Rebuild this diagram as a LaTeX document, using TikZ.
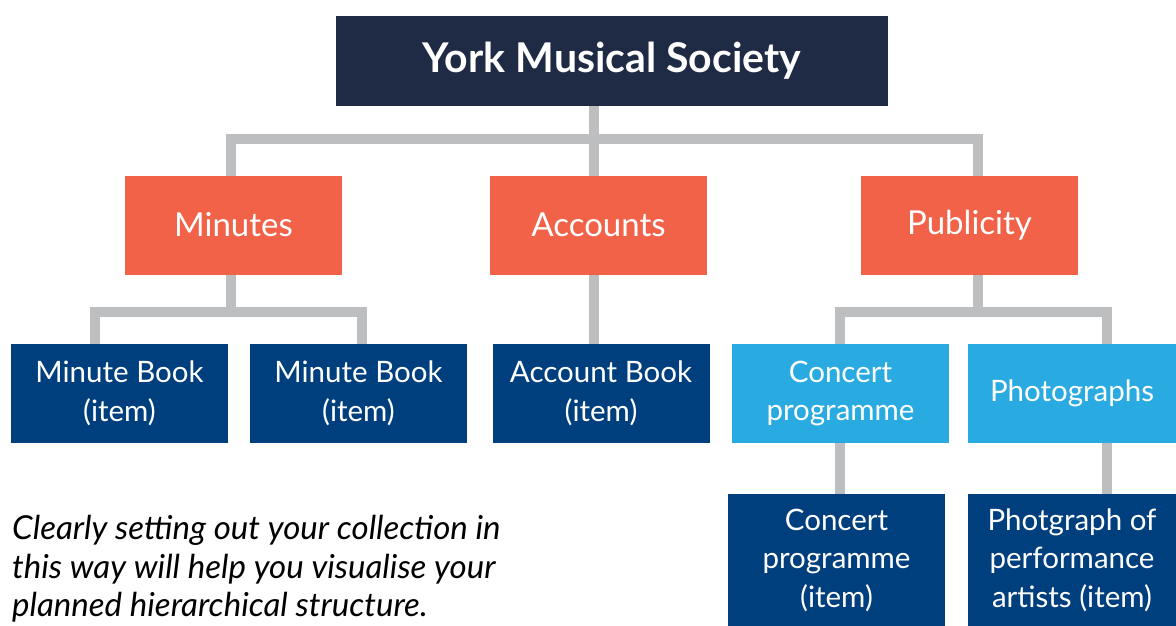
\documentclass[tikz,border=0pt]{standalone}
\usepackage{fontspec}
\setmainfont{Lato}
\definecolor{navy}{HTML}{1F2A44}
\definecolor{orng}{HTML}{F26249}
\definecolor{dblue}{HTML}{003F7E}
\definecolor{lblue}{HTML}{29ABE2}
\definecolor{gry}{HTML}{BDBEC0}
\begin{document}
\begin{tikzpicture}[x=1pt,y=-1pt,
  box/.style={inner sep=0pt, outer sep=0pt, text=white, align=center},
  topbox/.style={box, fill=navy, minimum width=552pt, minimum height=90pt, font=\bfseries\fontsize{41}{46}\selectfont},
  midbox/.style={box, fill=orng, minimum width=217pt, minimum height=99pt, font=\fontsize{33}{38}\selectfont},
  itembox/.style={box, fill=dblue, minimum width=217pt, minimum height=99pt, font=\fontsize{29.5}{38.5}\selectfont},
  subbox/.style={box, fill=lblue, minimum width=217pt, minimum height=99pt, font=\fontsize{29.5}{38.5}\selectfont},
  conn/.style={draw=gry, line width=10pt, line join=miter}]
\useasboundingbox (0,0) rectangle (1176,626);
\coordinate (tx) at (594,0);
\coordinate (bar1) at (594,139);
\coordinate (bar2m) at (231,312);
\coordinate (bar2p) at (978,312);
\coordinate (vcp) at (840,0);
\coordinate (vph) at (1107,0);
% nodes
\node[topbox] (title) at (612,61) {York Musical Society};
\node[midbox] (min) at (233.5,225) {Minutes};
\node[midbox] (acc) at (598.5,225) {Accounts};
\node[midbox] (pub) at (969.5,225) {Publicity};
\node[itembox] (mb1) at (119.5,393.5) {Minute Book\\(item)};
\node[itembox] (mb2) at (358.5,393.5) {Minute Book\\(item)};
\node[itembox] (ab) at (601,393.5) {Account Book\\(item)};
\node[subbox] (cp) at (840.5,393.5) {Concert\\programme};
\node[subbox, minimum width=208pt] (ph) at (1072,393.5) {Photographs};
\node[itembox, minimum height=132pt] (cpi) at (836.5,560) {Concert\\programme\\(item)};
\node[itembox, minimum width=208pt, minimum height=132pt] (phi) at (1072,560) {Photgraph of\\performance\\artists (item)};
\node[anchor=north west, inner sep=0pt, align=left, font=\itshape\fontsize{33}{38.5}\selectfont] (note) at (12,515) {Clearly setting out your collection in\\this way will help you visualise your\\planned hierarchical structure.};
% connectors
\draw[conn] (title.south -| tx) -- (acc.north -| tx);
\draw[conn] ([xshift=-2.5pt]min.north) |- (bar1) -| ([xshift=8.5pt]pub.north);
\draw[conn] ([xshift=-2.5pt]min.south) -- (bar2m);
\draw[conn] ([xshift=-24.5pt]mb1.north) |- (bar2m) -| ([xshift=3.5pt]mb2.north);
\draw[conn] (acc.south -| tx) -- (ab.north -| tx);
\draw[conn] ([xshift=8.5pt]pub.south) -- (bar2p);
\draw[conn] (cp.north -| vcp) |- (bar2p) -| (ph.north -| vph);
\draw[conn] (cp.south -| vcp) -- (cpi.north -| vcp);
\draw[conn] (ph.south -| vph) -- (phi.north -| vph);
\end{tikzpicture}
\end{document}
